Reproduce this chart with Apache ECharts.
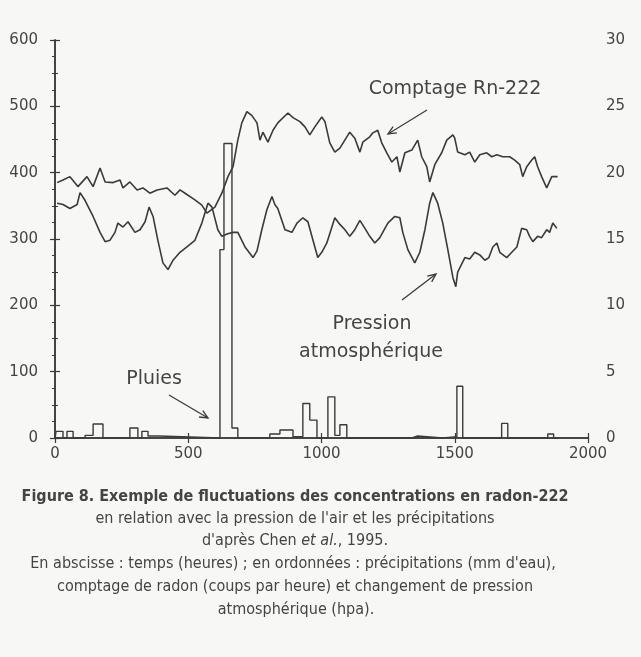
<!DOCTYPE html>
<html>
<head>
<meta charset="utf-8">
<script src="https://cdn.jsdelivr.net/npm/echarts@6/dist/echarts.min.js"></script>
<style>
  html, body { margin: 0; background: #f7f7f5; }
  #chart { width: 641px; height: 657px; }
</style>
</head>
<body>
<div id="chart"></div>
<script>
// [heures, coups par heure]
const radon = [
  [8,385],[30,389],[56,394],[86,379],[120,394],[143,379],[169,407],[188,386],[218,385],[244,389],
  [255,377],[281,386],[308,374],[330,377],[356,369],[383,374],[420,377],[450,366],[469,374],[488,369],
  [525,359],[551,351],[570,339],[600,348],[626,369],[649,394],[668,409],[686,449],[701,475],[720,492],
  [739,486],[758,475],[769,449],[780,461],[799,446],[818,464],[836,475],[874,490],[893,483],[919,477],
  [938,469],[956,457],[975,469],[1001,484],[1013,477],[1031,445],[1050,431],[1069,437],[1106,461],[1125,452],
  [1144,431],[1155,446],[1181,454],[1193,460],[1211,464],[1226,445],[1245,430],[1264,416],[1283,424],[1294,401],
  [1313,430],[1339,434],[1361,449],[1376,424],[1395,409],[1406,386],[1425,412],[1451,430],[1470,449],[1493,457],
  [1500,452],[1511,431],[1538,427],[1556,431],[1575,416],[1594,427],[1620,430],[1639,424],[1658,427],[1680,424],
  [1706,424],[1725,419],[1744,412],[1755,394],[1770,409],[1789,419],[1800,424],[1811,409],[1826,394],[1845,377],
  [1864,394],[1886,394]
];

// [heures, pression (échelle de droite)]
const pression = [
  [8,17.7],[30,17.6],[56,17.3],[83,17.6],[94,18.5],[113,17.9],[143,16.7],[169,15.5],[188,14.8],[206,14.9],
  [225,15.5],[236,16.2],[255,15.9],[274,16.3],[300,15.5],[319,15.7],[338,16.3],[353,17.4],[368,16.7],[386,14.9],
  [405,13.2],[424,12.7],[443,13.4],[469,14.0],[495,14.4],[525,14.9],[551,16.2],[574,17.7],[589,17.4],[611,15.7],
  [626,15.2],[648,15.4],[668,15.5],[686,15.5],[713,14.4],[743,13.6],[758,14.1],[776,15.7],[795,17.2],[814,18.2],
  [825,17.6],[836,17.3],[863,15.7],[889,15.5],[908,16.2],[930,16.6],[949,16.3],[968,14.9],[986,13.6],[1001,14.0],
  [1020,14.7],[1050,16.6],[1069,16.1],[1088,15.7],[1106,15.2],[1125,15.7],[1144,16.4],[1163,15.8],[1181,15.2],[1200,14.7],
  [1219,15.1],[1238,15.8],[1249,16.2],[1275,16.7],[1294,16.6],[1305,15.5],[1324,14.2],[1350,13.2],[1369,14.0],[1388,15.7],
  [1406,17.7],[1418,18.5],[1436,17.7],[1455,16.2],[1474,14.2],[1493,12.1],[1504,11.4],[1511,12.5],[1538,13.6],[1556,13.5],
  [1575,14.0],[1594,13.8],[1613,13.4],[1628,13.6],[1643,14.4],[1658,14.7],[1669,14.0],[1695,13.6],[1714,14.0],[1733,14.4],
  [1751,15.8],[1770,15.7],[1781,15.2],[1793,14.8],[1811,15.2],[1826,15.1],[1845,15.7],[1856,15.5],[1868,16.2],[1883,15.8]
];

// [début de l'intervalle (heures), précipitations (mm)]
const pluies = [
  [0,0],[4,0.5],[30,0],[45,0.5],[68,0],[113,0.2],[143,1.05],[180,0],[281,0.75],[311,0],
  [326,0.5],[349,0.15],[390,0],[619,14.2],[634,22.2],[664,0.75],[686,0],[806,0.3],[844,0.6],[893,0.1],
  [930,2.6],[956,1.35],[983,0],[1024,3.1],[1050,0.2],[1069,1.0],[1095,0],[1339,0.15],[1361,0],[1455,0.1],
  [1508,3.9],[1530,0],[1676,1.1],[1699,0],[1849,0.3],[1871,0],[1886,0]
];

const ink = '#3a3a3a';
const chart = echarts.init(document.getElementById('chart'));

function arrow(x1, y1, x2, y2) {
  const a = Math.atan2(y2 - y1, x2 - x1), L = 9, w = 0.42;
  return {
    type: 'group',
    children: [
      { type: 'line', shape: { x1, y1, x2, y2 }, style: { stroke: ink, lineWidth: 1.3 } },
      { type: 'polyline', shape: { points: [
          [x2 - L * Math.cos(a - w), y2 - L * Math.sin(a - w)], [x2, y2],
          [x2 - L * Math.cos(a + w), y2 - L * Math.sin(a + w)]] },
        style: { stroke: ink, lineWidth: 1.3, fill: null } }
    ]
  };
}

function label(x, y, text, font, rich) {
  return {
    type: 'text', x, y,
    style: { text, font, fill: '#444', align: 'center', verticalAlign: 'middle', rich }
  };
}

const axisBase = {
  type: 'value',
  axisLine: { show: true, lineStyle: { color: ink, width: 1.5 } },
  axisTick: { show: true, inside: true, length: 5, lineStyle: { color: ink, width: 1.2 } },
  splitLine: { show: false },
  axisLabel: { color: '#444', fontFamily: 'DejaVu Sans', fontSize: 15, formatter: v => String(v) }
};

const capFont = '16px "Liberation Sans Narrow", "DejaVu Sans Condensed", sans-serif';
const noteFont = '19px "DejaVu Sans"';

const option = {
  backgroundColor: '#f7f7f5',
  animation: false,
  grid: { left: 55, right: 53, top: 40, bottom: 219, outerBoundsMode: 'none' },
  xAxis: [
    Object.assign({}, axisBase, { position: 'bottom', min: 0, max: 2000, interval: 500,
      axisLabel: Object.assign({}, axisBase.axisLabel, { margin: 9 }) }),
    Object.assign({}, axisBase, { position: 'top', min: 0, max: 2000, interval: 500,
      axisLabel: { show: false } })
  ],
  yAxis: [
    Object.assign({}, axisBase, { position: 'left', min: 0, max: 600, interval: 100,
      minorTick: { show: true, splitNumber: 2, length: 3, lineStyle: { color: ink } },
      axisLabel: Object.assign({}, axisBase.axisLabel, { margin: 17 }) }),
    Object.assign({}, axisBase, { position: 'right', min: 0, max: 30, interval: 5,
      minorTick: { show: true, splitNumber: 4, length: 3, lineStyle: { color: ink } },
      axisLabel: Object.assign({}, axisBase.axisLabel, { margin: 18 }) })
  ],
  series: [
    { name: 'Comptage Rn-222', type: 'line', xAxisIndex: 0, yAxisIndex: 0, data: radon,
      showSymbol: false, lineStyle: { color: ink, width: 1.6 } },
    { name: 'Pression atmosphérique', type: 'line', xAxisIndex: 0, yAxisIndex: 1, data: pression,
      showSymbol: false, lineStyle: { color: ink, width: 1.6 } },
    { name: 'Pluies', type: 'line', step: 'end', xAxisIndex: 0, yAxisIndex: 1, data: pluies,
      showSymbol: false, lineStyle: { color: ink, width: 1.4 } }
  ],
  graphic: [
    label(455, 89, 'Comptage Rn-222', noteFont),
    arrow(427, 110, 388, 134),
    label(372, 324, 'Pression', noteFont),
    label(371, 352, 'atmosphérique', noteFont),
    arrow(402, 300, 436, 274),
    label(154, 379, 'Pluies', noteFont),
    arrow(169, 395, 208, 418),
    label(295, 497, 'Figure 8. Exemple de fluctuations des concentrations en radon-222', 'bold ' + capFont),
    label(295, 519, 'en relation avec la pression de l\'air et les précipitations', capFont),
    label(295, 541, '{n|d\'après Chen }{i|et al.}{n|, 1995.}', capFont, {
      n: { font: capFont, fill: '#444' },
      i: { font: 'italic ' + capFont, fill: '#444' }
    }),
    label(293, 564, 'En abscisse : temps (heures) ; en ordonnées : précipitations (mm d\'eau),', capFont),
    label(295, 587, 'comptage de radon (coups par heure) et changement de pression', capFont),
    label(296, 610, 'atmosphérique (hpa).', capFont)
  ]
};

chart.setOption(option);
</script>
</body>
</html>
